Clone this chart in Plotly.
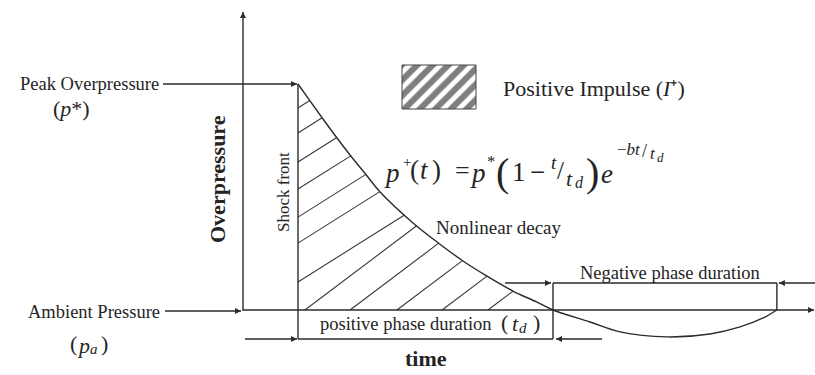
import numpy as np
import plotly.graph_objects as go

# Blast-wave pressure history: time in units of t_d, pressure in units of p*
t_positive = [0.0, 0.047, 0.098, 0.153, 0.204, 0.271, 0.322, 0.451, 0.545,
              0.647, 0.741, 0.843, 0.937, 1.0]
p_positive = [1.0, 0.925, 0.845, 0.761, 0.686, 0.593, 0.522, 0.385, 0.301,
              0.217, 0.150, 0.084, 0.035, 0.0]
t_negative = [1.0, 1.145, 1.263, 1.447, 1.616, 1.733, 1.831, 1.878]
p_negative = [0.0, -0.053, -0.097, -0.119, -0.106, -0.075, -0.031, 0.0]

# Hatching of the positive impulse area: lines start on the shock front
# (given by pressure) or on the ambient level (given by time)
hatch_front_p = [0.894, 0.783, 0.655, 0.535, 0.411, 0.296, 0.124]
hatch_base_t = [0.027, 0.204, 0.388, 0.565, 0.745]
hatch_front_slope = 0.71
hatch_base_slope = 0.85

# Page geometry (pixels) used to place guides and labels
W, H = 815, 375
ORIGIN_X, ORIGIN_Y = 298, 310
SX, SY = 255, 226


def fx(px):
    return (px - ORIGIN_X) / SX


def fy(py):
    return (ORIGIN_Y - py) / SY


t_d = t_positive[-1]
t_neg_end = t_negative[-1]
p_peak = p_positive[0]

INK = "#2b2b2b"
TEXT = "#242424"
SERIF = "Liberation Serif"

fig = go.Figure()


def hatch_segment(t0, p0, k):
    ts = np.linspace(t0, t_d, 4001)
    gap = np.interp(ts, t_positive, p_positive) - (p0 + k * (ts - t0))
    idx = np.argmax(gap <= 0) if np.any(gap <= 0) else len(ts) - 1
    t1 = ts[idx]
    return [t0, t1, None], [p0, p0 + k * (t1 - t0), None]


hx, hy = [], []
for p0 in hatch_front_p:
    a, b = hatch_segment(0.0, p0, hatch_front_slope)
    hx += a
    hy += b
for t0 in hatch_base_t:
    a, b = hatch_segment(t0, 0.0, hatch_base_slope)
    hx += a
    hy += b

fig.add_trace(go.Scatter(x=hx, y=hy, mode="lines",
                         line=dict(color="#383838", width=1.1),
                         hoverinfo="skip"))

# Pressure curve (positive then negative phase)
fig.add_trace(go.Scatter(x=t_positive + t_negative[1:],
                         y=p_positive + p_negative[1:],
                         mode="lines",
                         line=dict(color=INK, width=1.4, shape="spline"),
                         hoverinfo="skip"))

# Legend swatch for the positive impulse
bx0, bx1, by0, by1 = fx(402), fx(476), fy(109), fy(65)
fig.add_trace(go.Scatter(x=[bx0, bx1, bx1, bx0, bx0],
                         y=[by0, by0, by1, by1, by0],
                         mode="lines", fill="toself",
                         fillcolor="white",
                         fillpattern=dict(shape="/", size=11, solidity=0.55,
                                          fgcolor="#000000", bgcolor="white"),
                         line=dict(color="#444444", width=1),
                         hoverinfo="skip"))

# Bracket lines (shock front, phase durations)
line_style = dict(color=INK, width=1.4)
shapes = [
    dict(type="line", x0=0, x1=0, y0=p_peak, y1=fy(339), line=line_style),
    dict(type="line", x0=0, x1=t_d, y0=fy(339), y1=fy(339), line=line_style),
    dict(type="line", x0=t_d, x1=t_d, y0=fy(283), y1=fy(339), line=line_style),
    dict(type="line", x0=t_d, x1=t_neg_end, y0=fy(283), y1=fy(283), line=line_style),
    dict(type="line", x0=t_neg_end, x1=t_neg_end, y0=fy(283), y1=0, line=line_style),
]
for s in shapes:
    s.update(xref="x", yref="y", layer="above")

# Arrows: shaft as a line, head as an arrow marker at the tip
arrows = [
    # (tail x, tail y, head x, head y, head symbol)
    (fx(243), fy(311), fx(243), fy(12), "arrow-up"),          # overpressure axis
    (fx(243), 0, fx(814), 0, "arrow-right"),                  # time axis
    (fx(163), p_peak, fx(297), p_peak, "arrow-right"),
    (fx(165), fy(311), fx(241), fy(311), "arrow-right"),
    (fx(245), fy(339), fx(297), fy(339), "arrow-right"),
    (fx(602), fy(339), t_d + fx(301), fy(339), "arrow-left"),
    (fx(505), fy(283), t_d - fx(300), fy(283), "arrow-right"),
    (fx(815), fy(283), t_neg_end + fx(300), fy(283), "arrow-left"),
]
ax_, ay_ = [], []
for x0, y0, x1, y1, _ in arrows:
    ax_ += [x0, x1, None]
    ay_ += [y0, y1, None]
fig.add_trace(go.Scatter(x=ax_, y=ay_, mode="lines",
                         line=dict(color=INK, width=1.4), hoverinfo="skip"))
fig.add_trace(go.Scatter(x=[a[2] for a in arrows], y=[a[3] for a in arrows],
                         mode="markers",
                         marker=dict(symbol=[a[4] for a in arrows], size=6,
                                     color=INK, line=dict(width=0)),
                         hoverinfo="skip"))

annotations = []


def label(text, px, py, size, xanchor="center", bold=False, angle=0):
    if bold:
        text = "<b>" + text + "</b>"
    annotations.append(dict(x=fx(px), y=fy(py), xref="x", yref="y",
                            text=text, showarrow=False, xanchor=xanchor,
                            yanchor="middle", textangle=angle, borderpad=0,
                            font=dict(family=SERIF, size=size, color=TEXT)))


def pieces(parts):
    # run of text pieces, each placed by its left edge (for sub/superscripts)
    for text, px, py, size in parts:
        label(text, px, py, size, xanchor="left")


label("Peak Overpressure", 160, 84, 18.5, xanchor="right")
label("(<i>p</i>*)", 71, 108, 22)
label("Ambient Pressure", 161, 312, 18.5, xanchor="right")
pieces([("(", 69, 343, 22), ("<i>p</i>", 76, 345, 22),
        ("<i>a</i>", 89, 349, 15), (")", 100, 343, 22)])
label("Overpressure", 217, 179, 22, bold=True, angle=-90)
label("Shock front", 283, 192, 17, angle=-90)
label("Positive Impulse (<i>I</i>⁺)", 502, 88, 22, xanchor="left")
label("Nonlinear decay", 435, 227, 19, xanchor="left")
label("Negative phase duration", 670, 273, 18.5)

# positive phase duration (t_d)
pieces([("positive phase duration", 319, 324, 18.5),
        ("(", 500, 322, 22), ("<i>t</i>", 511, 323, 22),
        ("<i>d</i>", 518, 328, 15), (")", 532, 322, 22)])
label("time", 426, 358, 22, bold=True)

# p+(t) = p*(1 - t/t_d) e^(-bt/t_d)
pieces([
    ("<i>p</i>", 383, 173, 27), ("+", 402, 162, 15),
    ("(", 409, 170, 27), ("<i>t</i>", 419, 170, 27), (")", 431, 170, 27),
    ("=", 454, 170, 26),
    ("<i>p</i>", 469, 173, 27), ("*", 486, 161, 17),
    ("(", 495, 172, 40),
    ("1", 511, 172, 27), ("−", 529, 172, 27),
    ("<i>t</i>", 550, 162, 19), ("/", 556, 170, 25),
    ("<i>t</i>", 565, 178, 22), ("<i>d</i>", 574, 182, 16),
    (")", 585, 172, 40),
    ("<i>e</i>", 600, 174, 27),
    ("−<i>bt</i>", 616, 149, 17), ("/", 641, 151, 18),
    ("<i>t</i>", 649, 153, 17), ("<i>d</i>", 656, 157, 13),
])

fig.update_layout(
    shapes=shapes,
    annotations=annotations,
    width=W, height=H,
    margin=dict(l=0, r=0, t=0, b=0),
    paper_bgcolor="white", plot_bgcolor="white",
    showlegend=False,
    xaxis=dict(range=[fx(0), fx(W)], visible=False, fixedrange=True),
    yaxis=dict(range=[fy(H), fy(0)], visible=False, fixedrange=True),
)

fig.write_html("out.html")
